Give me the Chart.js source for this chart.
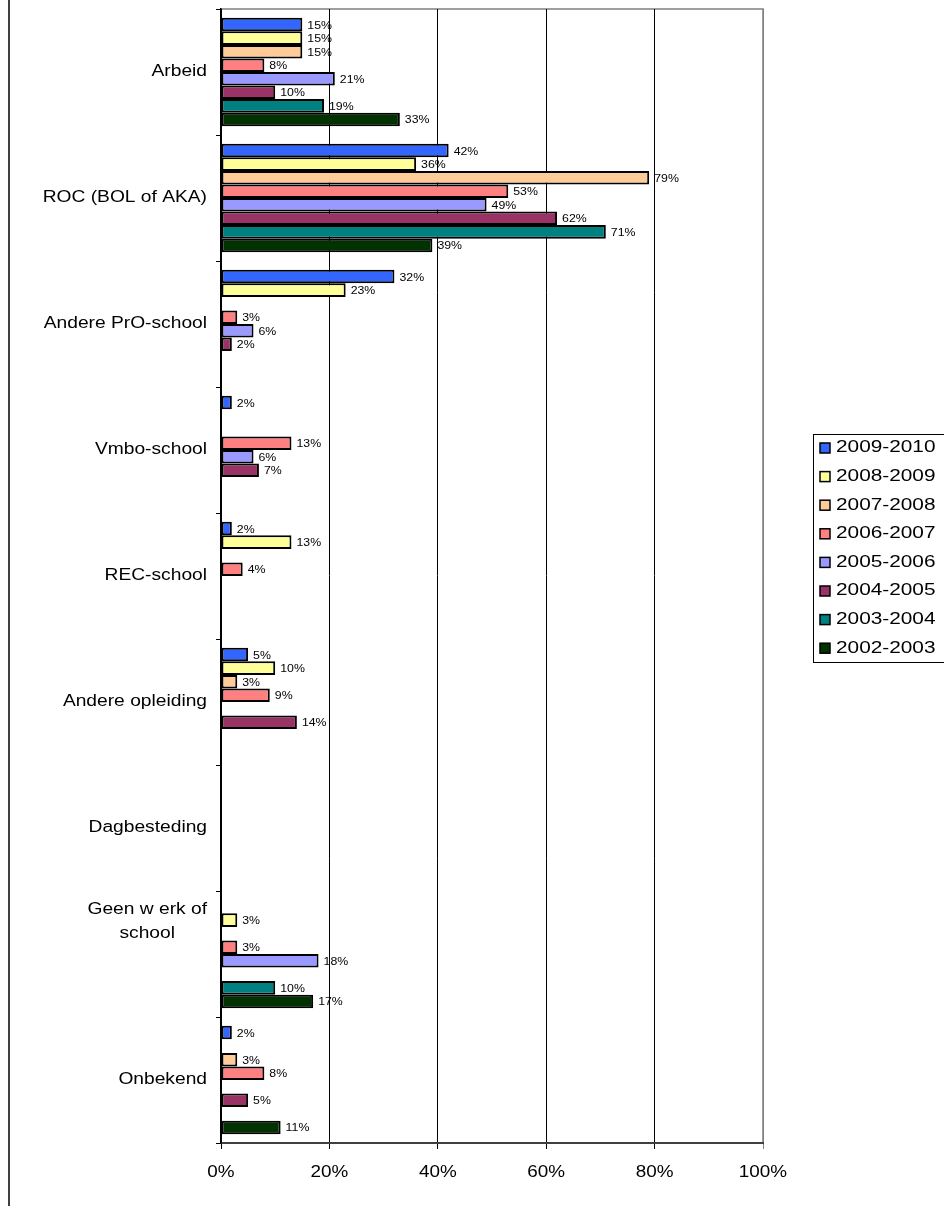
<!DOCTYPE html>
<html lang="nl">
<head>
  <meta charset="UTF-8" />
  <title>Uitstroom per schooljaar</title>
  <script src="https://cdn.jsdelivr.net/npm/chart.js"></script>
  <style>
    html, body { margin: 0; padding: 0; background: #fff; }
  </style>
</head>
<body>
  <canvas id="chart" width="944" height="1206"></canvas>

  <script>
    // categories (top to bottom)
    const categories = [
      'Arbeid', 'ROC (BOL of AKA)', 'Andere PrO-school', 'Vmbo-school', 'REC-school',
      'Andere opleiding', 'Dagbesteding', ['Geen w erk of', 'school'], 'Onbekend'
    ];
    const years = ['2009-2010', '2008-2009', '2007-2008', '2006-2007', '2005-2006', '2004-2005', '2003-2004', '2002-2003'];
    const colors = ['#3366FF', '#FFFF99', '#FFCC99', '#FF8080', '#9999FF', '#993366', '#008080', '#003300'];

    // percentages per year, same order as categories
    const y2009 = [15, 42, 32, 2, 2, 5, null, null, 2];
    const y2008 = [15, 36, 23, null, 13, 10, null, 3, null];
    const y2007 = [15, 79, null, null, null, 3, null, null, 3];
    const y2006 = [8, 53, 3, 13, 4, 9, null, 3, 8];
    const y2005 = [21, 49, 6, 6, null, null, null, 18, null];
    const y2004 = [10, 62, 2, 7, null, 14, null, null, 5];
    const y2003 = [19, 71, null, null, null, null, null, 10, null];
    const y2002 = [33, 39, null, null, null, null, null, 17, 11];
    const seriesValues = [y2009, y2008, y2007, y2006, y2005, y2004, y2003, y2002];

    const xTicks = [0, 20, 40, 60, 80, 100];

    const FONT = 'Arial, "Liberation Sans", sans-serif';
    const STRETCH = 1.2;

    // text drawn a bit wider, like the original export
    function wideText(ctx, text, x, y, size, align, sx) {
      ctx.save();
      ctx.font = size + 'px ' + FONT;
      ctx.fillStyle = '#000';
      ctx.textBaseline = 'middle';
      const w = ctx.measureText(text).width * sx;
      let left = x;
      if (align === 'right') left = x - w;
      if (align === 'center') left = x - w / 2;
      ctx.translate(left, y);
      ctx.scale(sx, 1);
      ctx.textAlign = 'left';
      ctx.fillText(text, 0, 0);
      ctx.restore();
      return w;
    }

    const decorations = {
      id: 'decorations',
      beforeDraw(chart) {
        const { ctx, chartArea } = chart;
        ctx.save();
        ctx.fillStyle = '#fff';
        ctx.fillRect(0, 0, chart.width, chart.height);
        // outer frame line on the left
        ctx.strokeStyle = '#000';
        ctx.lineWidth = 1.5;
        ctx.beginPath();
        ctx.moveTo(9, 0);
        ctx.lineTo(9, chart.height);
        ctx.stroke();
        // plot border top / right
        ctx.strokeStyle = '#808080';
        ctx.lineWidth = 1.5;
        ctx.beginPath();
        ctx.moveTo(chartArea.left, chartArea.top);
        ctx.lineTo(chartArea.right, chartArea.top);
        ctx.lineTo(chartArea.right, chartArea.bottom);
        ctx.stroke();
        ctx.restore();
      },
      afterDatasetsDraw(chart) {
        const { ctx } = chart;
        // value labels
        chart.data.datasets.forEach((ds, i) => {
          const meta = chart.getDatasetMeta(i);
          meta.data.forEach((bar, j) => {
            const v = ds.data[j];
            if (v === null || v === undefined) return;
            wideText(ctx, v + '%', bar.x + 5, bar.y + 1, 11, 'left', 1.12);
          });
        });
      },
      afterDraw(chart) {
        const { ctx, chartArea } = chart;
        const xs = chart.scales.x;
        const ys = chart.scales.y;

        // x tick labels
        xTicks.forEach(t => {
          wideText(ctx, t + '%', xs.getPixelForValue(t), chartArea.bottom + 30, 16, 'center', 1.18);
        });

        // category labels, multi-line ones centred on their own width
        categories.forEach((c, i) => {
          const lines = Array.isArray(c) ? c : [c];
          const cy = ys.getPixelForValue(i);
          ctx.font = '16px ' + FONT;
          const maxW = Math.max(...lines.map(l => ctx.measureText(l).width)) * STRETCH;
          const right = chartArea.left - 14;
          if (lines.length === 1) {
            wideText(ctx, lines[0], right, cy, 16, 'right', STRETCH);
          } else {
            lines.forEach((l, k) => {
              wideText(ctx, l, right - maxW / 2, cy - 44 + k * 24, 16, 'center', STRETCH);
            });
          }
        });

        // legend
        const lx = 813, ly = 434, rowH = 28.6;
        ctx.save();
        ctx.strokeStyle = '#000';
        ctx.lineWidth = 1;
        ctx.strokeRect(lx + 0.5, ly + 0.5, 140, 228);
        ctx.restore();
        chart.data.datasets.forEach((ds, i) => {
          const cy = ly + 14 + i * rowH;
          ctx.save();
          ctx.fillStyle = ds.backgroundColor;
          ctx.strokeStyle = '#000';
          ctx.lineWidth = 1.5;
          ctx.fillRect(820, cy - 5, 10, 10);
          ctx.strokeRect(820, cy - 5, 10, 10);
          ctx.restore();
          wideText(ctx, ds.label, 836, cy, 16, 'left', 1.3);
        });
      }
    };

    new Chart(document.getElementById('chart'), {
      type: 'bar',
      data: {
        labels: categories,
        datasets: years.map((y, i) => ({
          label: y,
          data: seriesValues[i],
          backgroundColor: colors[i],
          borderColor: '#000',
          borderWidth: 2,
          borderSkipped: false,
          categoryPercentage: 0.86,
          barPercentage: 1
        }))
      },
      options: {
        indexAxis: 'y',
        responsive: false,
        animation: false,
        layout: { padding: { top: 9, right: 181, bottom: 0, left: 0 } },
        plugins: {
          legend: { display: false },
          tooltip: { enabled: false }
        },
        scales: {
          x: {
            min: 0,
            max: 100,
            ticks: { stepSize: 20, display: false },
            grid: {
              color: c => (c.tick && c.tick.value === 100 ? '#808080' : '#000'),
              lineWidth: 1,
              tickLength: 6
            },
            border: { display: true, color: '#404040', width: 2 },
            afterFit: s => { s.height = 63; }
          },
          y: {
            ticks: { display: false },
            grid: { drawOnChartArea: false, offset: true, tickLength: 5, color: '#000' },
            border: { display: true, color: '#000', width: 1.5 },
            afterFit: s => { s.width = 221; }
          }
        }
      },
      plugins: [decorations]
    });
  </script>
</body>
</html>
